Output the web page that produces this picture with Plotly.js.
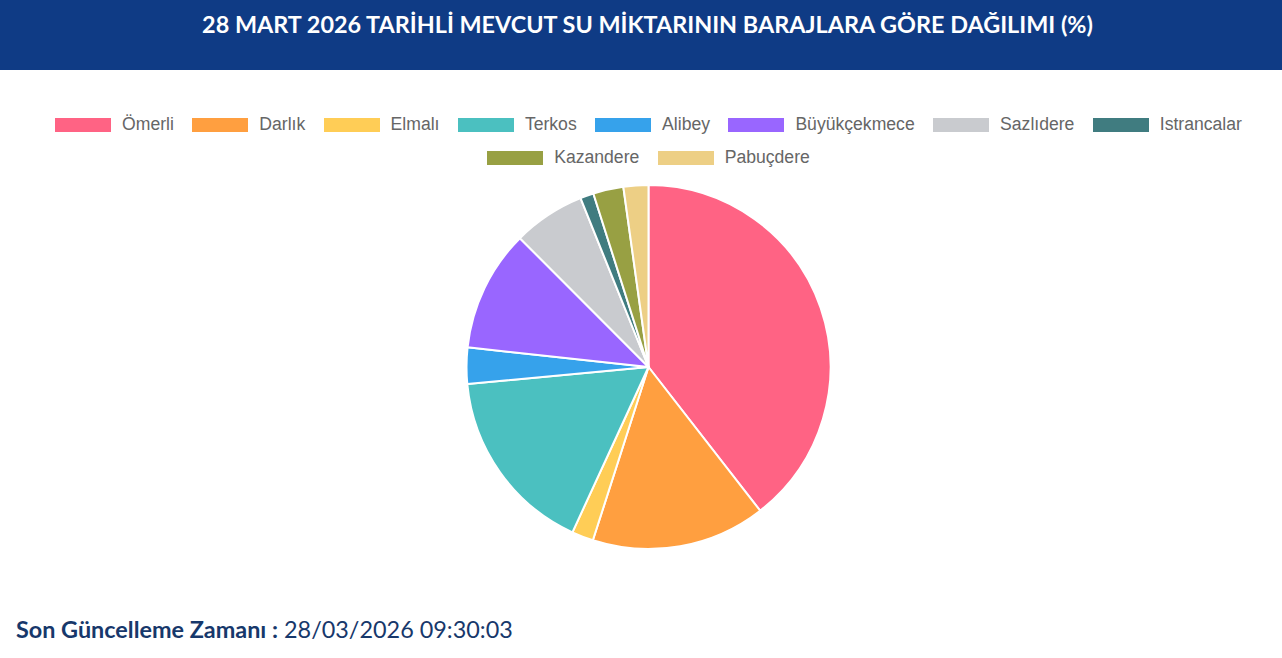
<!DOCTYPE html>
<html>
<head>
<meta charset="utf-8">
<script src="https://cdn.plot.ly/plotly-3.0.1.min.js"></script>
<style>
	body { margin: 0; background: #fff; overflow: hidden; }
	#chart { position: absolute; left: 0; top: 0; width: 1282px; height: 658px; }
	#legend {
		position: absolute; left: 15px; top: 108px; width: 1267px;
		display: flex; flex-wrap: wrap; justify-content: center;
		font-family: "Liberation Sans", Arial, sans-serif; font-size: 17.6px; color: #666;
	}
	.item { display: flex; align-items: center; height: 33px; margin: 0 9.2px; }
	.box { width: 56px; height: 14px; margin-right: 11px; }
</style>
</head>
<body>
<div id="chart"></div>
<div id="legend"></div>
<script>
// baraj isimleri ve yuzdeleri (28 Mart 2026)
const barajlar = ["Ömerli", "Darlık", "Elmalı", "Terkos", "Alibey", "Büyükçekmece", "Sazlıdere", "Istrancalar", "Kazandere", "Pabuçdere"];
const oranlar = [39.49, 15.46, 1.92, 16.64, 3.22, 10.79, 6.40, 1.19, 2.69, 2.21];
const renkler = ["#ff6384", "#ff9f40", "#ffcd56", "#4bc0c0", "#36a2eb", "#9966ff", "#c9cbcf", "#407c80", "#98a043", "#edcf85"];

const W = 1282, H = 658;
const baslik = "28 MART 2026 TARİHLİ MEVCUT SU MİKTARININ BARAJLARA GÖRE DAĞILIMI (%)";
const guncelleme = "28/03/2026 09:30:03";

let pieTrace = {
	type: 'pie',
	labels: barajlar,
	values: oranlar,
	marker: { colors: renkler, line: { color: '#fff', width: 2 } },
	sort: false,
	direction: 'clockwise',
	rotation: 0,
	textinfo: 'none',
	hovertemplate: '%{label}: %{value}%<extra></extra>',
	domain: { x: [466.5 / W, 830.5 / W], y: [1 - 549 / H, 1 - 185 / H] }
};

let layout = {
	width: W,
	height: H,
	margin: { l: 0, r: 0, t: 0, b: 0 },
	paper_bgcolor: '#fff',
	showlegend: false,
	title: {
		text: baslik,
		font: { family: 'Lato, "Open Sans", sans-serif', size: 23.4, color: '#fff', weight: 700 },
		x: 647.5 / W, xanchor: 'center',
		y: 1 - 25 / H, yanchor: 'middle', yref: 'paper'
	},
	shapes: [{
		type: 'rect', xref: 'paper', yref: 'paper',
		x0: 0, x1: 1, y0: 1 - 70 / H, y1: 1,
		fillcolor: '#0f3b85', line: { width: 0 }, layer: 'below'
	}],
	annotations: [{
		xref: 'paper', yref: 'paper',
		x: 14 / W, y: 1 - 629 / H, xanchor: 'left', yanchor: 'middle',
		showarrow: false,
		text: '<b>Son Güncelleme Zamanı :</b> ' + guncelleme,
		font: { family: 'Lato, "Open Sans", sans-serif', size: 23.4, color: '#17386b' }
	}]
};

Plotly.newPlot('chart', [pieTrace], layout, { displayModeBar: false, staticPlot: true });

// lejant
const legend = document.getElementById('legend');
for (let i = 0; i < barajlar.length; i++) {
	const item = document.createElement('div');
	item.className = 'item';
	const box = document.createElement('span');
	box.className = 'box';
	box.style.background = renkler[i];
	const label = document.createElement('span');
	label.textContent = barajlar[i];
	item.appendChild(box);
	item.appendChild(label);
	legend.appendChild(item);
}
</script>
</body>
</html>
